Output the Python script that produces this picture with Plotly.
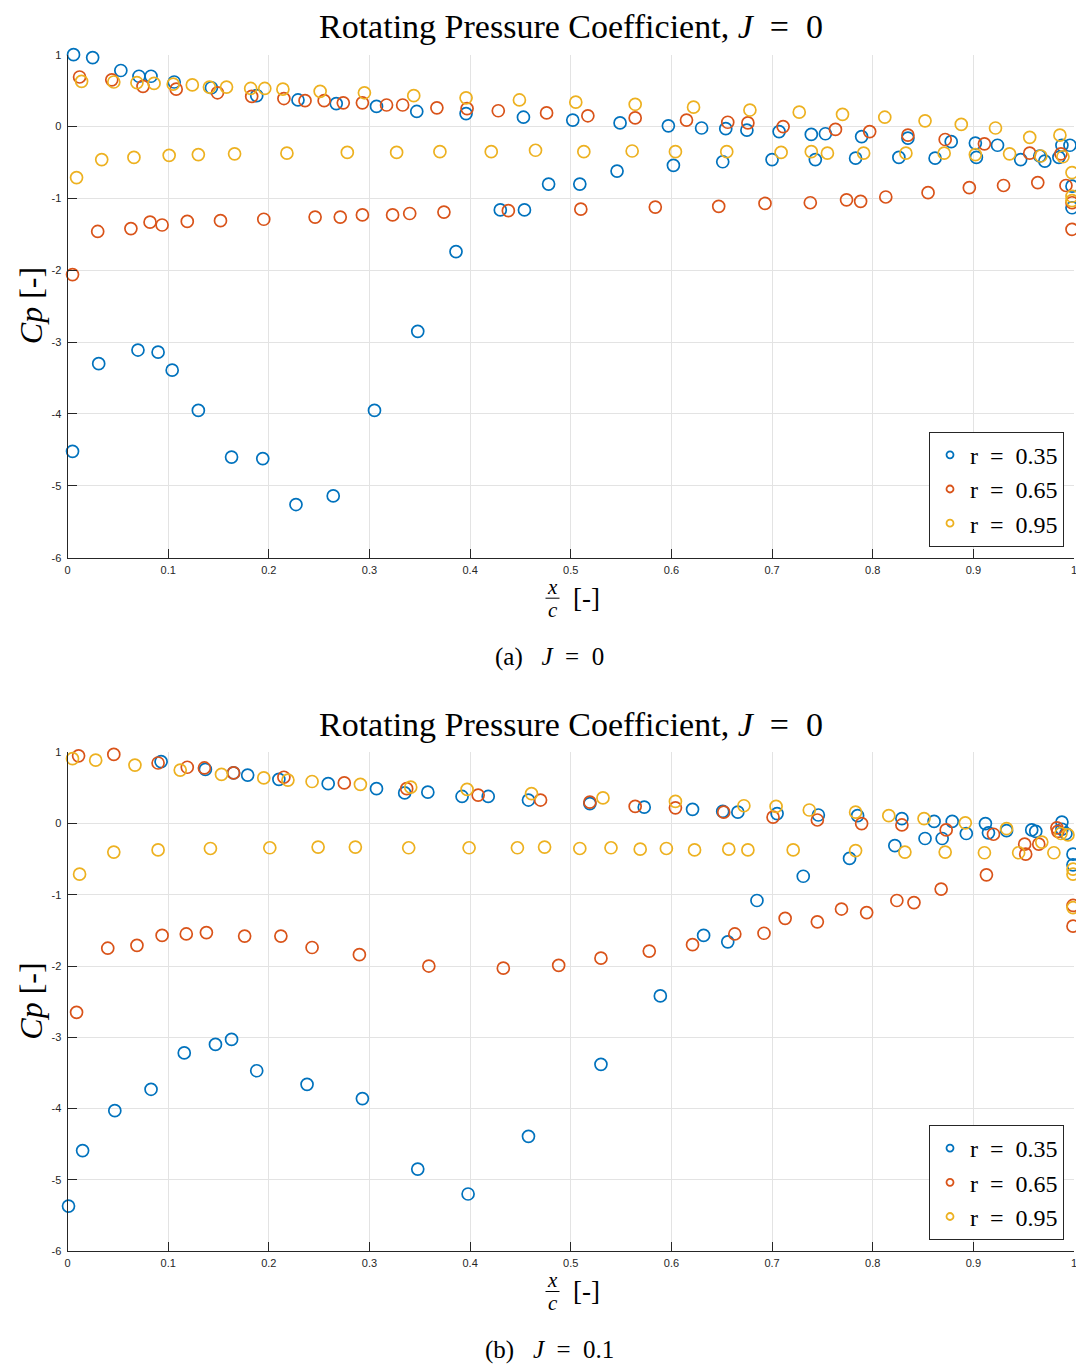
import plotly.graph_objects as go

# ---------------- data: J = 0 ----------------
x_j0_r035 = [0.006, 0.025, 0.053, 0.071, 0.083, 0.106, 0.143, 0.188, 0.229, 0.267, 0.307, 0.347,
             0.396, 0.453, 0.502, 0.549, 0.597, 0.630, 0.654, 0.675, 0.707, 0.739, 0.753, 0.789,
             0.835, 0.878, 0.902, 0.924, 0.988, 0.996,
             0.005, 0.031, 0.070, 0.090, 0.104, 0.130, 0.163, 0.194, 0.227, 0.264, 0.305, 0.348,
             0.386, 0.430, 0.454, 0.478, 0.509, 0.546, 0.602, 0.651, 0.700, 0.743, 0.783, 0.826,
             0.862, 0.903, 0.947, 0.966, 0.971, 0.985, 0.998, 0.998]
cp_j0_r035 = [1.00, 0.96, 0.78, 0.70, 0.70, 0.62, 0.54, 0.43, 0.37, 0.32, 0.28, 0.21,
              0.18, 0.13, 0.09, 0.05, 0.01, -0.02, -0.03, -0.05, -0.07, -0.11, -0.10, -0.14,
              -0.16, -0.21, -0.23, -0.26, -0.26, -0.26,
              -4.52, -3.30, -3.11, -3.14, -3.39, -3.95, -4.60, -4.62, -5.26, -5.14, -3.95, -2.85,
              -1.74, -1.16, -1.16, -0.80, -0.80, -0.62, -0.54, -0.49, -0.46, -0.46, -0.44, -0.43,
              -0.44, -0.43, -0.46, -0.41, -0.48, -0.43, -0.83, -1.13]

x_j0_r065 = [0.012, 0.044, 0.075, 0.108, 0.149, 0.183, 0.215, 0.236, 0.255, 0.274, 0.293, 0.317,
             0.333, 0.367, 0.397, 0.428, 0.476, 0.517, 0.564, 0.615, 0.656, 0.676, 0.711, 0.763,
             0.797, 0.835, 0.872, 0.911, 0.956, 0.987, 0.992, 0.998, 0.998,
             0.005, 0.030, 0.063, 0.082, 0.094, 0.119, 0.152, 0.195, 0.246, 0.271, 0.293, 0.323,
             0.340, 0.374, 0.438, 0.510, 0.584, 0.647, 0.693, 0.738, 0.774, 0.788, 0.813, 0.855,
             0.896, 0.930, 0.964]
cp_j0_r065 = [0.69, 0.65, 0.56, 0.52, 0.47, 0.42, 0.39, 0.36, 0.36, 0.33, 0.33, 0.30,
              0.30, 0.26, 0.25, 0.22, 0.19, 0.15, 0.12, 0.09, 0.06, 0.05, 0.00, -0.04,
              -0.07, -0.12, -0.18, -0.24, -0.37, -0.38, -0.82, -1.06, -1.43,
              -2.06, -1.46, -1.42, -1.33, -1.37, -1.32, -1.31, -1.29, -1.26, -1.26, -1.23, -1.23,
              -1.21, -1.19, -1.17, -1.15, -1.12, -1.11, -1.07, -1.06, -1.02, -1.04, -0.98, -0.92,
              -0.85, -0.82, -0.78]

x_j0_r095 = [0.014, 0.046, 0.069, 0.086, 0.105, 0.124, 0.141, 0.158, 0.182, 0.196, 0.214, 0.251,
             0.295, 0.344, 0.396, 0.449, 0.505, 0.564, 0.622, 0.678, 0.727, 0.770, 0.812, 0.852,
             0.888, 0.922, 0.956, 0.986,
             0.009, 0.034, 0.066, 0.101, 0.130, 0.166, 0.218, 0.278, 0.327, 0.370, 0.421, 0.465,
             0.513, 0.561, 0.604, 0.655, 0.709, 0.739, 0.755, 0.791, 0.833, 0.871, 0.902, 0.936,
             0.967, 0.989, 0.998, 0.998, 0.998]
cp_j0_r095 = [0.63, 0.62, 0.61, 0.60, 0.59, 0.58, 0.55, 0.55, 0.53, 0.53, 0.52, 0.49,
              0.47, 0.43, 0.40, 0.37, 0.34, 0.31, 0.27, 0.23, 0.20, 0.17, 0.13, 0.08,
              0.03, -0.02, -0.15, -0.12,
              -0.71, -0.46, -0.43, -0.40, -0.39, -0.38, -0.37, -0.36, -0.36, -0.35, -0.35, -0.33,
              -0.35, -0.34, -0.35, -0.35, -0.36, -0.35, -0.37, -0.37, -0.37, -0.37, -0.39, -0.38,
              -0.41, -0.42, -0.64, -0.97, -1.03]

# ---------------- data: J = 0.1 ----------------
x_j01_r035 = [0.006, 0.040, 0.093, 0.137, 0.165, 0.179, 0.210, 0.259, 0.307, 0.335, 0.358, 0.392,
              0.418, 0.458, 0.519, 0.573, 0.621, 0.651, 0.666, 0.705, 0.746, 0.785, 0.829, 0.861,
              0.879, 0.912, 0.988,
              0.822, 0.852, 0.869, 0.893, 0.915, 0.933, 0.958, 0.962, 0.988, 0.992, 0.999, 0.999,
              0.001, 0.015, 0.047, 0.083, 0.116, 0.147, 0.163, 0.188, 0.238, 0.293, 0.348, 0.398,
              0.458, 0.530, 0.589, 0.632, 0.656, 0.685, 0.731, 0.777]
cp_j01_r035 = [1.06, 1.03, 0.87, 0.76, 0.71, 0.68, 0.62, 0.56, 0.49, 0.43, 0.44, 0.38,
               0.38, 0.33, 0.28, 0.23, 0.20, 0.17, 0.16, 0.14, 0.12, 0.11, 0.07, 0.03,
               0.03, 0.00, 0.02,
               -0.31, -0.21, -0.21, -0.14, -0.13, -0.10, -0.09, -0.11, -0.08, -0.14, -0.43, -0.58,
               -5.37, -4.59, -4.03, -3.73, -3.22, -3.10, -3.03, -3.47, -3.66, -3.86, -4.85, -5.20,
               -4.39, -3.38, -2.42, -1.57, -1.66, -1.08, -0.74, -0.49]

x_j01_r065 = [0.011, 0.046, 0.090, 0.119, 0.136, 0.165, 0.215, 0.275, 0.337, 0.408, 0.470, 0.519,
              0.564, 0.604, 0.652, 0.701, 0.745, 0.789, 0.829, 0.873, 0.920, 0.983, 0.984,
              0.951, 0.952, 0.965,
              0.009, 0.040, 0.069, 0.094, 0.118, 0.138, 0.176, 0.212, 0.243, 0.290, 0.359, 0.433,
              0.488, 0.530, 0.578, 0.621, 0.663, 0.692, 0.713, 0.745, 0.769, 0.794, 0.824, 0.841,
              0.868, 0.913, 0.999, 0.999]
cp_j01_r065 = [0.95, 0.97, 0.85, 0.79, 0.78, 0.71, 0.65, 0.57, 0.49, 0.40, 0.33, 0.30,
               0.24, 0.22, 0.16, 0.09, 0.05, 0.00, -0.02, -0.09, -0.15, -0.06, -0.11,
               -0.29, -0.43, -0.29,
               -2.65, -1.75, -1.71, -1.57, -1.55, -1.53, -1.58, -1.58, -1.74, -1.84, -2.00, -2.03,
               -1.99, -1.89, -1.79, -1.70, -1.55, -1.54, -1.33, -1.38, -1.20, -1.25, -1.08, -1.11,
               -0.92, -0.72, -1.15, -1.44]

x_j01_r095 = [0.005, 0.028, 0.067, 0.112, 0.153, 0.195, 0.219, 0.243, 0.291, 0.341, 0.397, 0.461,
              0.532, 0.604, 0.672, 0.704, 0.737, 0.783, 0.816, 0.851, 0.892, 0.933, 0.987, 0.994,
              0.012, 0.046, 0.090, 0.142, 0.201, 0.249, 0.286, 0.339, 0.399, 0.447, 0.474, 0.509,
              0.540, 0.569, 0.595, 0.623, 0.657, 0.676, 0.721, 0.783, 0.832, 0.872, 0.911, 0.945,
              0.968, 0.980, 0.999, 0.999, 0.999]
cp_j01_r095 = [0.91, 0.89, 0.82, 0.75, 0.69, 0.64, 0.61, 0.59, 0.55, 0.51, 0.48, 0.42,
               0.36, 0.31, 0.25, 0.24, 0.19, 0.16, 0.11, 0.07, 0.01, -0.07, -0.14, -0.16,
               -0.71, -0.40, -0.37, -0.35, -0.34, -0.33, -0.33, -0.34, -0.34, -0.34, -0.33, -0.35,
               -0.34, -0.36, -0.35, -0.37, -0.36, -0.37, -0.37, -0.38, -0.40, -0.40, -0.41, -0.41,
               -0.26, -0.41, -0.64, -0.71, -1.18]

series_names = ["r\u2002=\u20020.35", "r\u2002=\u20020.65", "r\u2002=\u20020.95"]
series_colors = ["#0072BD", "#D95319", "#EDB120"]

x_tick_vals = [0, 0.1, 0.2, 0.3, 0.4, 0.5, 0.6, 0.7, 0.8, 0.9, 1]
x_tick_text = ["0", "0.1", "0.2", "0.3", "0.4", "0.5", "0.6", "0.7", "0.8", "0.9", "1"]
y_tick_vals = [1, 0, -1, -2, -3, -4, -5, -6]
y_tick_text = ["1", "0", "-1", "-2", "-3", "-4", "-5", "-6"]

panel_titles = ["Rotating Pressure Coefficient, <i>J</i>\u2002=\u20020",
                "Rotating Pressure Coefficient, <i>J</i>\u2002=\u20020"]
panel_captions = ["(a)\u2002 <i>J</i>\u2002=\u20020", "(b)\u2002 <i>J</i>\u2002=\u20020.1"]

W, H = 1076, 1365
SERIF = "Liberation Serif"
SANS = "Liberation Sans"
INK = "#262626"


def py(v):
    """pixel row (from top) -> paper y"""
    return 1 - v / H


def px(v):
    return v / W


panels = [
    dict(xs=[x_j0_r035, x_j0_r065, x_j0_r095], ys=[cp_j0_r035, cp_j0_r065, cp_j0_r095],
         top=54.7, bottom=557.7),
    dict(xs=[x_j01_r035, x_j01_r065, x_j01_r095], ys=[cp_j01_r035, cp_j01_r065, cp_j01_r095],
         top=752.3, bottom=1251.0),
]

fig = go.Figure()
annotations = []
shapes = []
layout_axes = {}

x_left, x_right = 67.5, 1074.0

for i, p in enumerate(panels):
    n = "" if i == 0 else str(i + 1)
    xa, ya = "x" + n, "y" + n
    leg = "legend" + n
    for k in range(3):
        fig.add_trace(go.Scatter(
            x=p["xs"][k], y=p["ys"][k], mode="markers", xaxis=xa, yaxis=ya,
            showlegend=False, cliponaxis=False,
            marker=dict(symbol="circle-open", size=12, color=series_colors[k],
                        line=dict(width=1.7, color=series_colors[k])),
        ))
    # legend-only entries with small markers
    for k in range(3):
        fig.add_trace(go.Scatter(
            x=[None], y=[None], mode="markers", xaxis=xa, yaxis=ya,
            name=series_names[k], legend=leg, showlegend=True,
            marker=dict(symbol="circle-open", size=7, color=series_colors[k],
                        line=dict(width=1.8, color=series_colors[k])),
        ))

    axis_common = dict(showgrid=True, gridcolor="#e3e3e3", gridwidth=1, zeroline=False,
                       showline=True, linecolor=INK, linewidth=1, ticks="inside",
                       ticklen=9, tickwidth=1, tickcolor=INK, automargin=False,
                       ticklabeloverflow="allow",
                       tickfont=dict(family=SANS, size=11, color=INK), mirror=False)
    layout_axes["xaxis" + n] = dict(axis_common, domain=[px(x_left), px(x_right)], range=[0, 1],
                                    tickvals=x_tick_vals, ticktext=x_tick_text, anchor=ya,
                                    ticklabelstandoff=2)
    layout_axes["yaxis" + n] = dict(axis_common, domain=[py(p["bottom"]), py(p["top"])],
                                    range=[-6, 1], tickvals=y_tick_vals, ticktext=y_tick_text,
                                    anchor=xa, ticklabelstandoff=3)

    layout_axes[leg] = dict(x=px(1064), y=py(p["bottom"] - 11), xanchor="right", yanchor="bottom",
                            bgcolor="white", bordercolor=INK, borderwidth=1,
                            font=dict(family=SERIF, size=24, color="black"),
                            tracegroupgap=0, itemwidth=30)

    mid = (p["top"] + p["bottom"]) / 2
    cx = (x_left + x_right) / 2
    # panel title
    annotations.append(dict(text=panel_titles[i], x=px(cx), y=py(p["top"] - 28), xref="paper",
                            yref="paper", showarrow=False, xanchor="center", yanchor="middle",
                            font=dict(family=SERIF, size=34, color="black")))
    # y-axis title
    annotations.append(dict(text="<i>Cp</i> [-]", x=px(31), y=py(mid), xref="paper", yref="paper",
                            showarrow=False, textangle=-90, xanchor="center", yanchor="middle",
                            font=dict(family=SERIF, size=32, color="black")))
    # x-axis title as a stacked fraction x / c followed by [-]
    b = p["bottom"]
    annotations.append(dict(text="<i>x</i>", x=px(552.5), y=py(b + 29), xref="paper", yref="paper",
                            showarrow=False, xanchor="center", yanchor="middle",
                            font=dict(family=SERIF, size=21, color="black")))
    annotations.append(dict(text="<i>c</i>", x=px(552.5), y=py(b + 52), xref="paper", yref="paper",
                            showarrow=False, xanchor="center", yanchor="middle",
                            font=dict(family=SERIF, size=21, color="black")))
    shapes.append(dict(type="line", xref="paper", yref="paper", x0=px(545.5), x1=px(559.5),
                       y0=py(b + 40.5), y1=py(b + 40.5), line=dict(color="black", width=1)))
    annotations.append(dict(text="[-]", x=px(586), y=py(b + 40), xref="paper", yref="paper",
                            showarrow=False, xanchor="center", yanchor="middle",
                            font=dict(family=SERIF, size=27, color="black")))
    # caption
    annotations.append(dict(text=panel_captions[i], x=px(549), y=py(b + 99), xref="paper",
                            yref="paper", showarrow=False, xanchor="center", yanchor="middle",
                            font=dict(family=SERIF, size=25, color="black")))

fig.update_layout(
    width=W, height=H, margin=dict(l=0, r=0, t=0, b=0, autoexpand=False),
    paper_bgcolor="white", plot_bgcolor="white",
    annotations=annotations, shapes=shapes, **layout_axes,
)

fig.write_html("out.html")
